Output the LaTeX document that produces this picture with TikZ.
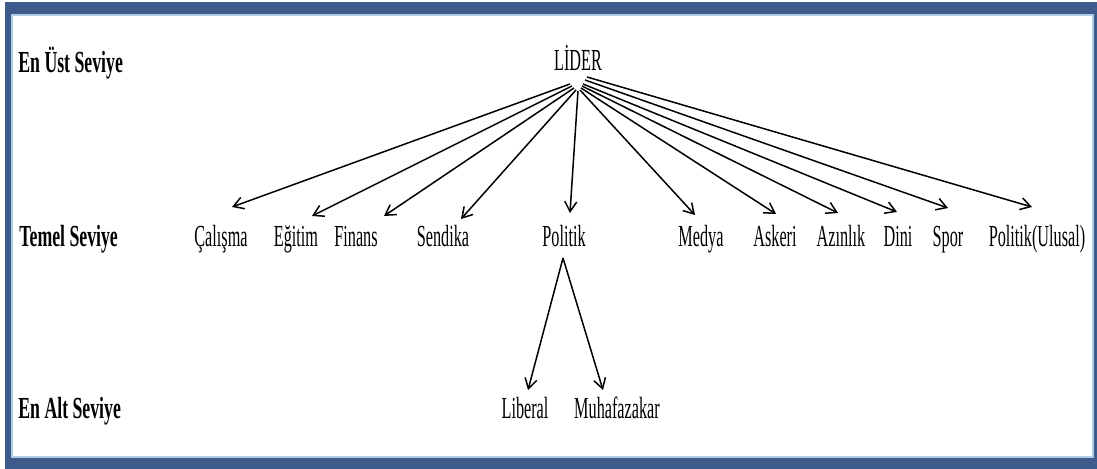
\documentclass[tikz,border=0pt]{standalone}
\usepackage{fontspec}
\setmainfont{Liberation Serif}[FakeStretch=0.53]
\newfontfamily\levelfont{Liberation Serif}[FakeStretch=0.58]
\usetikzlibrary{arrows.meta}
\definecolor{frameblue}{RGB}{61,92,140}
\definecolor{edgeblue}{RGB}{175,205,228}
\begin{document}
\begin{tikzpicture}[x=0.5pt, y=-0.5pt,
  item/.style={inner sep=0pt, anchor=base, font=\fontsize{15.3}{18}\selectfont},
  level/.style={inner sep=0pt, anchor=base west, font=\levelfont\bfseries\fontsize{15.3}{18}\selectfont},
  conn/.style={-{Straight Barb[length=5pt,width=6pt]}, line width=0.75pt, black}]
  % page and frame
  \fill[white] (0,0) rectangle (1097,469);
  \useasboundingbox (0,0) rectangle (1097,469);
  \fill[frameblue] (5,2) rectangle (1097,469);
  \fill[white] (12,15) rectangle (1093,457);
  \draw[edgeblue, line width=0.6pt] (12,15) rectangle (1093,457);

  % level captions
  \node[level] (lvtop) at (18,73) {En Üst Seviye};
  \node[level] (lvmid) at (19,247) {Temel Seviye};
  \node[level] (lvbot) at (18,419) {En Alt Seviye};

  % top
  \node[item] (lider) at (578,71) {LİDER};

  % middle level
  \node[item] (calisma) at (221,247) {Çalışma};
  \node[item] (egitim)  at (296,247) {Eğitim};
  \node[item] (finans)  at (356,247) {Finans};
  \node[item] (sendika) at (443,247) {Sendika};
  \node[item] (politik) at (564,247) {Politik};
  \node[item] (medya)   at (701,247) {Medya};
  \node[item] (askeri)  at (775,247) {Askeri};
  \node[item] (azinlik) at (841,247) {Azınlık};
  \node[item] (dini)    at (898,247) {Dini};
  \node[item] (spor)    at (948,247) {Spor};
  \node[item] (ulusal)  at (1037,247) {Politik(Ulusal)};

  % bottom level
  \node[item] (liberal) at (525,419) {Liberal};
  \node[item] (muhaf)   at (617,419) {Muhafazakar};

  % connectors from the leader
  \draw[conn] ([shift={(-8,13)}]lider.base) -- ([shift={(11,-40)}]calisma.base);
  \draw[conn] ([shift={(-6,15)}]lider.base) -- ([shift={(16,-31)}]egitim.base);
  \draw[conn] ([shift={(-4,17)}]lider.base) -- ([shift={(28,-31)}]finans.base);
  \draw[conn] ([shift={(-2,19)}]lider.base) -- ([shift={(18,-28)}]sendika.base);
  \draw[conn] ([shift={(0,20)}]lider.base) -- ([shift={(6,-34)}]politik.base);
  \draw[conn] ([shift={(2,19)}]lider.base) -- ([shift={(-6,-32)}]medya.base);
  \draw[conn] ([shift={(3,17)}]lider.base) -- ([shift={(1,-33)}]askeri.base);
  \draw[conn] ([shift={(4,15)}]lider.base) -- ([shift={(-3,-34)}]azinlik.base);
  \draw[conn] ([shift={(5,13)}]lider.base) -- ([shift={(-1,-35)}]dini.base);
  \draw[conn] ([shift={(7,9)}]lider.base) -- ([shift={(0,-39)}]spor.base);
  \draw[conn] ([shift={(9,6)}]lider.base) -- ([shift={(-5,-40)}]ulusal.base);

  % connectors below Politik
  \draw[conn] ([shift={(-1,11)}]politik.base) -- ([shift={(3,-29)}]liberal.base);
  \draw[conn] ([shift={(-1,11)}]politik.base) -- ([shift={(-14,-29)}]muhaf.base);
\end{tikzpicture}
\end{document}
